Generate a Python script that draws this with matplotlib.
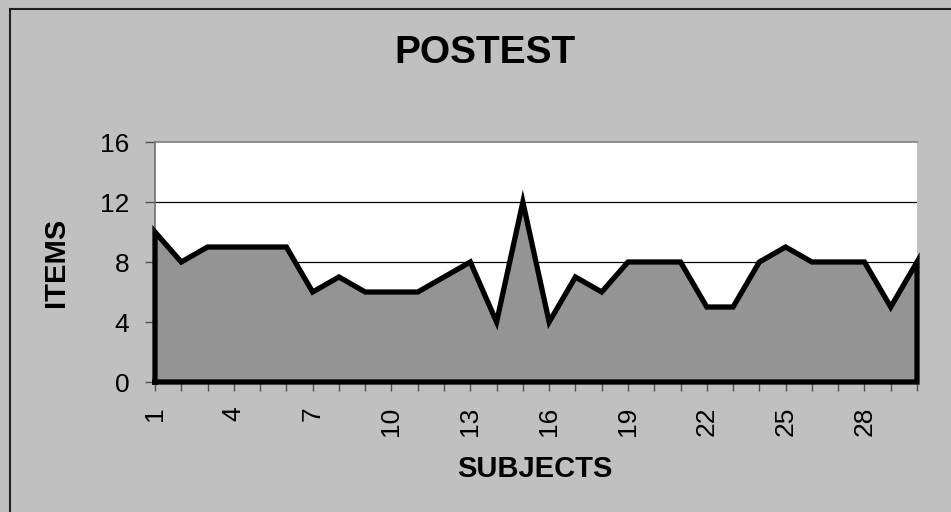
import numpy as np
import matplotlib.pyplot as plt
from matplotlib.patches import Rectangle

plt.rcParams['font.family'] = ['Liberation Sans', 'DejaVu Sans']

# data
subjects = np.arange(1, 31)
items = [10, 8, 9, 9, 9, 9, 6, 7, 6, 6, 6, 7, 8, 4, 12,
         4, 7, 6, 8, 8, 8, 5, 5, 8, 9, 8, 8, 8, 5, 8]
xtick_labels = [1, 4, 7, 10, 13, 16, 19, 22, 25, 28]
ytick_values = [0, 4, 8, 12, 16]

W, H = 951, 512
fig = plt.figure(figsize=(W / 100, H / 100), dpi=100, facecolor='#c0c0c0')
ax = fig.add_axes([155 / W, 1 - 382 / H, (917 - 155) / W, (382 - 142) / H])
ax.set_facecolor('white')

ax.set_xlim(subjects[0], subjects[-1])
ax.set_ylim(0, 16)

for y in ytick_values[1:-1]:
    ax.axhline(y, color='black', lw=0.9, zorder=1)

ax.fill_between(subjects, items, 0, color='#949494', lw=0, zorder=2)
# outline of the area, including the sides and base
ox = np.concatenate([[subjects[0]], subjects, [subjects[-1], subjects[0]]])
oy = np.concatenate([[0], items, [0, 0]])
ax.plot(ox, oy, color='black', lw=3.8, solid_joinstyle='miter',
        clip_on=False, zorder=3)

for s in ['right', 'bottom']:
    ax.spines[s].set_visible(False)
ax.spines['left'].set_color('#707070')
ax.spines['top'].set_color('#808080')
ax.spines['left'].set_linewidth(1.2)
ax.spines['top'].set_linewidth(1.2)

ax.set_yticks(ytick_values)
ax.set_yticklabels([str(v) for v in ytick_values], fontsize=19)
ax.set_xticks(subjects)
ax.set_xticklabels([str(s) if s in xtick_labels else '' for s in subjects],
                   rotation=90, fontsize=19)
ax.tick_params(axis='x', length=6.5, width=1, color='#505050', pad=11)
ax.tick_params(axis='y', length=7.5, width=1, color='#505050', pad=11)

fig.text(485 / W, 1 - 53 / H, 'POSTEST', ha='center', va='center',
         fontsize=28, fontweight='bold')
fig.text(56 / W, 1 - 262 / H, 'ITEMS', ha='center', va='center',
         rotation=90, fontsize=21, fontweight='bold')
fig.text(535 / W, 1 - 469 / H, 'SUBJECTS', ha='center', va='center',
         fontsize=21, fontweight='bold')

fig.patches.append(Rectangle((10 / W, -0.1), 1.2, 1 - 9 / H + 0.1,
                             transform=fig.transFigure, fill=False,
                             ec='#202020', lw=1.5))

fig.savefig('out.png', dpi=100, facecolor=fig.get_facecolor())
